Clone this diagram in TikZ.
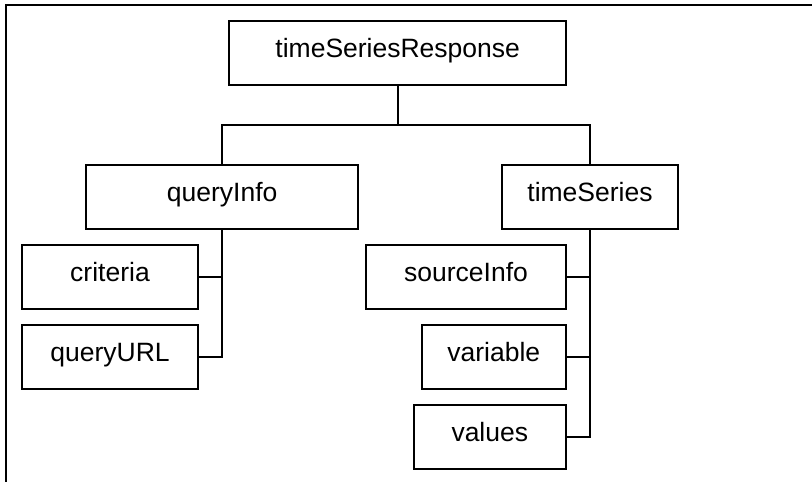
\documentclass[tikz,border=0pt]{standalone}
\usepackage{fontspec}
\setmainfont{Liberation Sans}
\begin{document}
\begin{tikzpicture}[x=1pt,y=-1pt,
  box/.style={draw=black,line width=2pt,rectangle,inner sep=0pt,minimum height=64pt,
    text height=20pt,text depth=10.8pt,font=\fontsize{26.5}{30}\selectfont},
  conn/.style={draw=black,line width=2pt,line join=miter}]
\useasboundingbox (0,0) rectangle (812,482);
\draw[conn] (6,483) -- (6,5) -- (813,5);
\node[box,minimum width=336.7pt] (tsr) at (397.7,52.7) {timeSeriesResponse};
\node[box,minimum width=272.3pt] (qi) at (222.2,196.7) {queryInfo};
\node[box,minimum width=176.6pt] (ts) at (590,196.7) {timeSeries};
\node[box,minimum width=176.6pt] (cr) at (110,276.8) {criteria};
\node[box,minimum width=176.6pt] (qu) at (110,356.7) {queryURL};
\node[box,minimum width=200pt] (si) at (466,276.8) {sourceInfo};
\node[box,minimum width=144.3pt] (va) at (493.8,356.7) {variable};
\node[box,minimum width=152.3pt] (vl) at (489.8,436.7) {values};
\coordinate (j) at (397.7,125);
\draw[conn] (tsr.south) -- (j);
\draw[conn] (qi.north) |- (j) -| (ts.north);
\draw[conn] (qi.south) |- (qu.east);
\draw[conn] (cr.east) -- (cr.east -| qi.south);
\draw[conn] (ts.south) |- (vl.east);
\draw[conn] (si.east) -- (si.east -| ts.south);
\draw[conn] (va.east) -- (va.east -| ts.south);
\end{tikzpicture}
\end{document}
